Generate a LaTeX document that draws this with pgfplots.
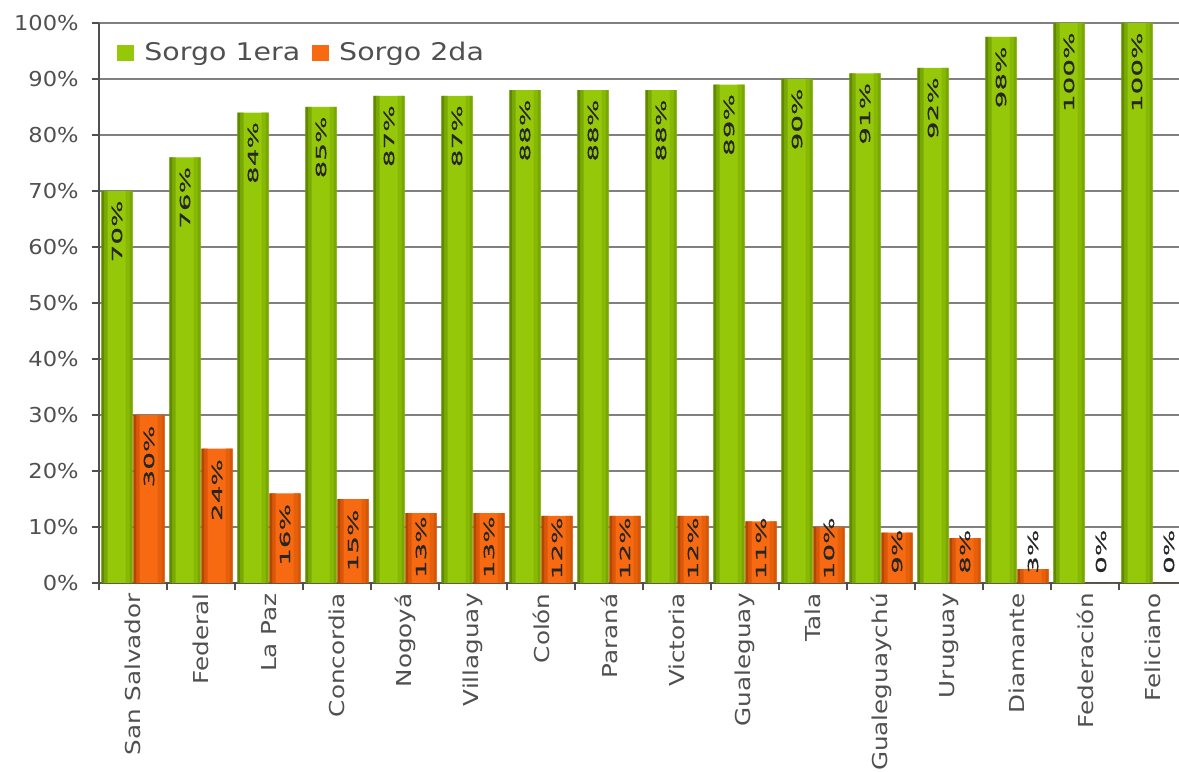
\documentclass[border=0pt]{standalone}
\usepackage{pgfplots}
\pgfplotsset{compat=1.18}
\usepackage{pgfplotstable}
\usepackage{fontspec}
\setmainfont{DejaVu Sans}[FakeStretch=1.1]
\newfontfamily\barfont{DejaVu Sans}[FakeStretch=2.0,FakeBold=0.6]
\newfontfamily\xlabfont{DejaVu Sans}[FakeStretch=1.2]
\newfontfamily\legfont{DejaVu Sans}[FakeStretch=1.17]
\definecolor{gmid}{HTML}{96C80A}
\definecolor{gdark}{HTML}{5E8A00}
\definecolor{gright}{HTML}{78A800}
\definecolor{omid}{HTML}{F86A12}
\definecolor{odark}{HTML}{B84400}
\definecolor{oright}{HTML}{D45606}
\definecolor{txt}{HTML}{505050}
\definecolor{gridc}{HTML}{808080}
\definecolor{axc}{HTML}{505050}

\pgfplotstableread{
x  v1    l1       v2   l2      p2
0  70    70\%     30   30\%    28.2
1  76    76\%     24   24\%    22.2
2  84    84\%     16   16\%    14.2
3  85    85\%     15   15\%    13.2
4  87    87\%     12.5 13\%    12.0
5  87    87\%     12.5 13\%    12.0
6  88    88\%     12   12\%    11.8
7  88    88\%     12   12\%    11.8
8  88    88\%     12   12\%    11.8
9  89    89\%     11   11\%    11.8
10 90    90\%     10   10\%    11.8
11 91    91\%     9    9\%     9.6
12 92    92\%     8    8\%     9.6
13 97.5  98\%     2.5  3\%     9.6
14 100   100\%    0    0\%     9.6
15 100   100\%    0    0\%     9.6
}\datatable

\pgfplotsset{strip/.style n args={3}{ybar, bar width=#1, bar shift=#2, draw=none, fill=#3, forget plot}}

\begin{document}
\begin{tikzpicture}
\begin{axis}[
  at={(0,0)}, anchor=south west,
  scale only axis, width=544bp, height=280bp,
  xmin=-0.5, xmax=15.5, ymin=0, ymax=100,
  ytick={0,10,...,100},
  yticklabel={\pgfmathprintnumber{\tick}\%},
  /pgf/number format/assume math mode=true,
  ymajorgrids, grid style={draw=gridc, line width=0.9pt},
  axis x line*=bottom, axis y line*=left,
  axis line style={draw=axc, line width=0.9pt, -},
  tick align=outside,
  tick style={draw=axc, line width=0.8pt},
  major tick length=3.5bp, minor tick length=3.5bp,
  xtick={0,...,15},
  major x tick style={draw=none},
  minor xtick={-0.5,0.5,...,15.5},
  xticklabels={San Salvador,Federal,La Paz,Concordia,Nogoyá,Villaguay,Colón,Paraná,Victoria,Gualeguay,Tala,Gualeguaychú,Uruguay,Diamante,Federación,Feliciano},
  xticklabel style={yshift=-1.5bp, rotate=90, anchor=east, inner sep=0pt, font=\xlabfont\fontsize{10.3}{12}\selectfont, text=txt},
  yticklabel style={anchor=east, inner sep=0pt, font=\fontsize{10.3}{12}\selectfont, text=txt, xshift=-6.5bp},
  legend style={at={(0,1)}, anchor=west, xshift=9bp, yshift=-15bp, draw=none, fill=none,
     font=\legfont\fontsize{12.2}{14}\selectfont, text=txt, inner sep=0pt,
     /tikz/every odd column/.append style={column sep=3bp},
     /tikz/every even column/.append style={column sep=4bp}},
  legend columns=2, legend cell align=left,
  legend image code/.code={\fill[#1] (0bp,-4.2bp) rectangle (8.5bp,4.2bp);},
  clip=false,
]
% bars (base + edge strips for the cylinder look)
\addplot[ybar, bar width=15.5bp, bar shift=-8bp, draw=none, fill=gmid]
   table[x=x, y=v1] {\datatable};
\addlegendentry{Sorgo 1era}
\addplot[ybar, bar width=15.5bp, bar shift=8bp, draw=none, fill=omid]
   table[x=x, y=v2] {\datatable};
\addlegendentry{Sorgo 2da}
\addplot[strip={1.6bp}{-15bp}{gdark}] table[x=x, y=v1] {\datatable};
\addplot[strip={1.6bp}{-13.5bp}{gdark!50!gmid}] table[x=x, y=v1] {\datatable};
\addplot[strip={1.6bp}{-1bp}{gright}] table[x=x, y=v1] {\datatable};
\addplot[strip={2bp}{-2.7bp}{gright!50!gmid}] table[x=x, y=v1] {\datatable};
\addplot[strip={1.6bp}{1bp}{odark}] table[x=x, y=v2] {\datatable};
\addplot[strip={1.6bp}{2.5bp}{odark!50!omid}] table[x=x, y=v2] {\datatable};
\addplot[strip={1.6bp}{15bp}{oright}] table[x=x, y=v2] {\datatable};
\addplot[strip={2bp}{13.3bp}{oright!50!omid}] table[x=x, y=v2] {\datatable};
% value labels
\addplot[ybar, bar width=15.5bp, bar shift=-8bp, draw=none, fill=none, forget plot,
   nodes near coords, point meta=explicit symbolic,
   every node near coord/.append style={xshift=-8bp, yshift=-4.5bp, rotate=90, anchor=east, inner sep=0pt,
      font=\barfont\fontsize{7}{8}\selectfont, text=black!85}]
   table[x=x, y=v1, meta=l1] {\datatable};
\addplot[ybar, bar width=15.5bp, bar shift=8bp, draw=none, fill=none, forget plot,
   nodes near coords, point meta=explicit symbolic,
   every node near coord/.append style={xshift=8bp, yshift=0bp, rotate=90, anchor=east, inner sep=0pt,
      font=\barfont\fontsize{7}{8}\selectfont, text=black!85}]
   table[x=x, y=p2, meta=l2] {\datatable};
\end{axis}
\pgfresetboundingbox
\path[use as bounding box] (-49.5bp,-94.5bp) rectangle (540bp,291.5bp);
\end{tikzpicture}
\end{document}
